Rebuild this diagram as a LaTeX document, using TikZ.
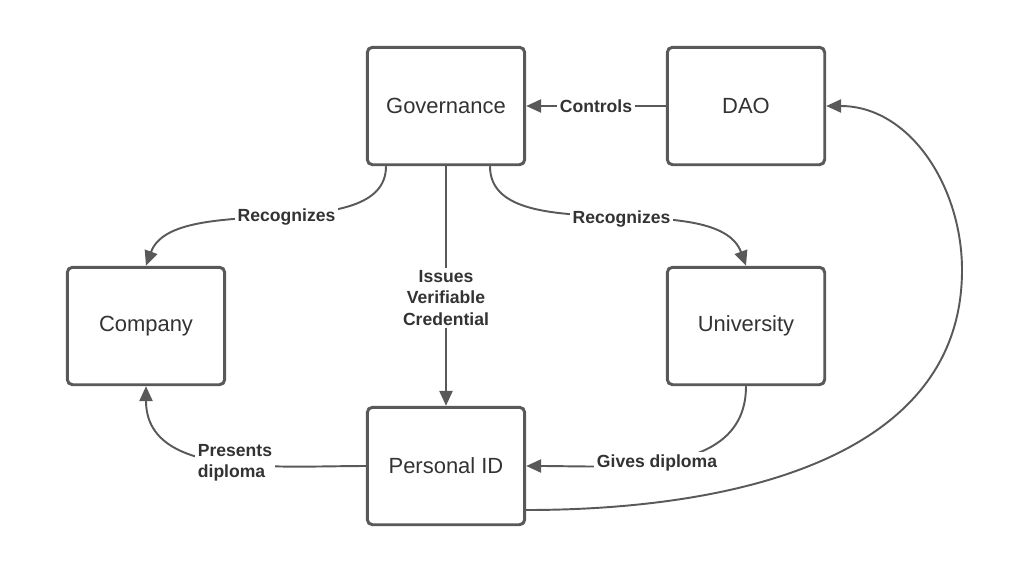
\documentclass[tikz,border=0pt]{standalone}
\usepackage{fontspec}
\setmainfont{Liberation Sans}
\usetikzlibrary{arrows.meta,positioning,calc}
\definecolor{linegray}{HTML}{595959}
\definecolor{textgray}{HTML}{333333}
\tikzset{
  box/.style={draw=linegray,line width=1.7pt,rounded corners=3pt,fill=white,
    minimum width=3.15cm,minimum height=2.35cm,text=textgray,
    font=\fontsize{12.5}{15}\selectfont},
  link/.style={draw=linegray,line width=1.1pt,-{Triangle[length=8.5pt,width=7.5pt]}},
  lbl/.style={fill=white,text=textgray,inner sep=1.5pt,
    font=\bfseries\fontsize{10}{12}\selectfont}
}

\begin{document}
\begin{tikzpicture}[x=0.02cm,y=-0.02cm]
  \useasboundingbox (0,0) rectangle (1020,572);
  % boxes
  \node[box] (gov)  at (446,106) {Governance};
  \node[box] (dao)  at (746,106) {DAO};
  \node[box] (comp) at (146,326) {Company};
  \node[box] (univ) at (746,326) {University};
  \node[box] (pid)  at (446,466) {Personal ID};
  \coordinate (bend) at (962,270);
  % links
  \draw[link] (dao) -- node[lbl] {Controls} (gov);
  \draw[link] ($(gov.south)+(-60,0)$) to[out=-90,in=70,looseness=0.8]
    node[lbl,pos=0.47] {Recognizes} (comp.north);
  \draw[link] ($(gov.south)+(44,0)$) to[out=-90,in=110,looseness=0.8]
    node[lbl,pos=0.54] {Recognizes} (univ.north);
  \draw[link] (gov) -- node[lbl,align=center,pos=0.55] {Issues\\Verifiable\\Credential} (pid);
  \draw[link] (pid.west) to[out=180,in=-90]
    node[lbl,align=left,pos=0.45] {Presents\\diploma} (comp.south);
  \draw[link] (univ.south) to[out=-90,in=0]
    node[lbl,pos=0.55] {Gives diploma} (pid.east);
  \draw[link] ($(pid.east)+(0,44)$) to[out=0,in=-90] (bend)
    to[out=90,in=0] (dao.east);
\end{tikzpicture}
\end{document}
